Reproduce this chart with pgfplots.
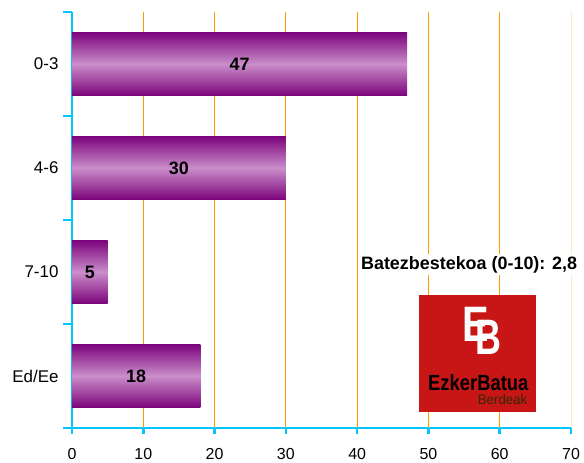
\documentclass[border=0pt]{standalone}
\usepackage{pgfplots}
\pgfplotsset{compat=1.18}
\usepackage{fontspec}
\setmainfont{Liberation Sans}
\usetikzlibrary{calc}
\definecolor{axcyan}{RGB}{0,200,255}
\definecolor{gridor}{RGB}{255,153,0}
\definecolor{bardark}{RGB}{125,5,125}
\definecolor{barlight}{RGB}{202,142,202}
\definecolor{logored}{RGB}{200,22,22}
\definecolor{berdeak}{RGB}{50,40,10}
\pgfplotsset{purplebar/.style={xbar, bar width=0.6, bar shift=0pt, draw=none, top color=bardark, bottom color=bardark, middle color=barlight}}
\begin{document}
\begin{tikzpicture}
\begin{axis}[
  scale only axis, width=499bp, height=416bp,
  xmin=0, xmax=70, ymin=-0.5, ymax=3.5,
  axis lines=left, axis line style={-, axcyan, line width=2.6bp},
  xtick={0,10,...,70},
  ytick={0,1,2,3}, yticklabels={Ed/Ee,7-10,4-6,0-3},
  minor ytick={-0.5,0.5,1.5,2.5,3.5},
  tick align=outside,
  major tick length=6bp, minor tick length=9bp,
  tick style={axcyan, line width=2.6bp},
  major y tick style={draw=none},
  extra x ticks={10,20,30,40,50,60},
  extra x tick labels={},
  extra x tick style={grid=major, major grid style={gridor, line width=1bp}, tick style={draw=none}},
  /pgf/number format/assume math mode=true,
  tick label style={black},
  xticklabel style={font=\fontsize{16}{18}\selectfont, yshift=-11bp},
  yticklabel style={font=\fontsize{17}{19}\selectfont, xshift=-4bp},
  clip=false,
]
\draw[gridor!22, line width=1bp] (axis cs:70,-0.5) -- (axis cs:70,3.5);
\addplot[purplebar] coordinates {(47,3)};
\addplot[purplebar] coordinates {(30,2)};
\addplot[purplebar] coordinates {(5,1)};
\addplot[purplebar] coordinates {(18,0)};
\addplot[draw=none, mark=none, nodes near coords, point meta=explicit symbolic,
  every node near coord/.style={anchor=center, font=\fontsize{18}{20}\selectfont\bfseries, black}]
  coordinates {(23.5,3) [47] (15,2) [30] (2.5,1) [5] (9,0) [18]};
\node[fill=white, inner sep=2bp, font=\fontsize{18}{20}\selectfont\bfseries] at (axis cs:55.7,1.07) {Batezbestekoa (0-10): 2,8};
\fill[logored] (axis cs:48.7,0.78) rectangle (axis cs:65.1,-0.35);
\node[white, font=\fontsize{50}{50}\selectfont\bfseries, inner sep=0] at (axis cs:57.5,0.43) {\scalebox{0.8}[1]{E}\kern-13bp\raisebox{-13bp}{\scalebox{0.72}[1]{B}}};
\node[black, font=\fontsize{22}{22}\selectfont\bfseries, xscale=0.84, inner sep=0] at (axis cs:57.0,-0.06) {EzkerBatua};
\node[berdeak, font=\fontsize{14}{14}\selectfont, xscale=0.95, inner sep=0] at (axis cs:60.4,-0.226) {Berdeak};
\end{axis}
\pgfresetboundingbox
\path ($(current axis.south west)+(-72bp,-35bp)$) rectangle ($(current axis.north east)+(13bp,12bp)$);
\end{tikzpicture}
\end{document}
